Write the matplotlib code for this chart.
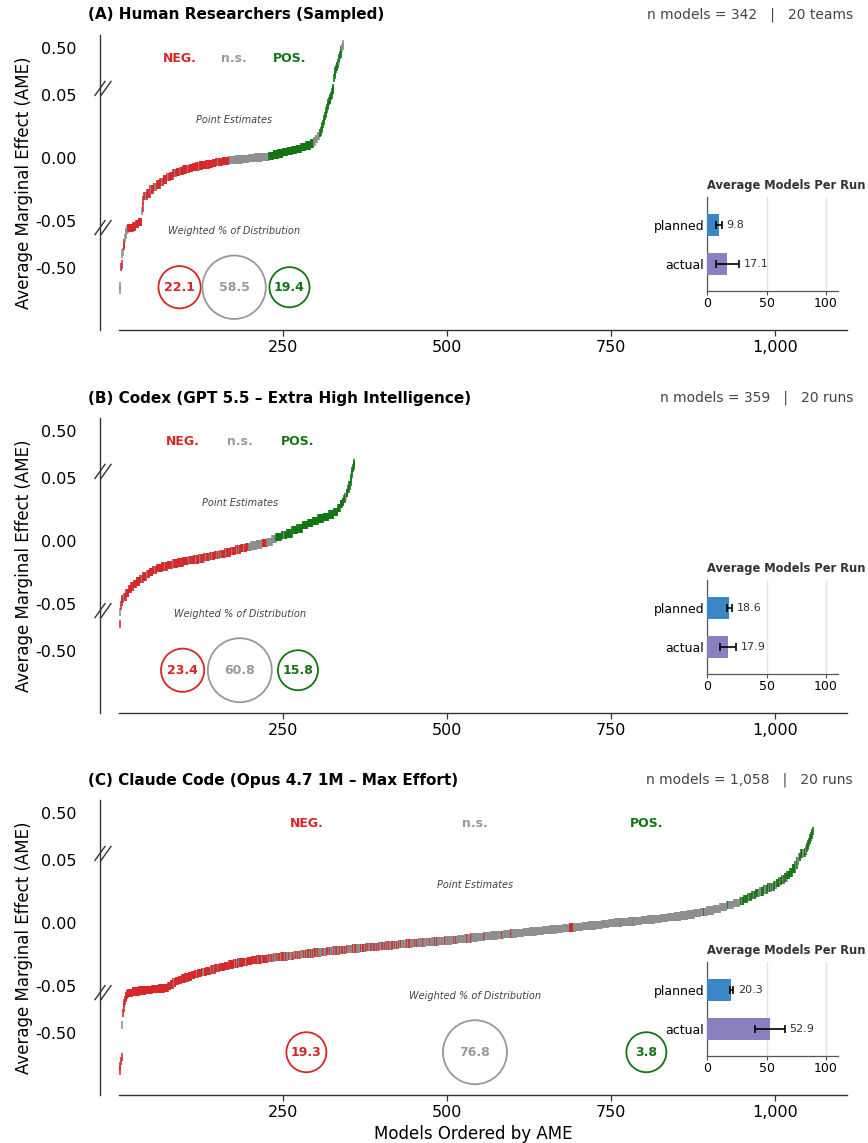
import numpy as np
import matplotlib.pyplot as plt
import matplotlib.transforms as mtransforms
from matplotlib.lines import Line2D

# ---- data -------------------------------------------------------------
# each AME value is paired with a string: one char per model at that value
# '-' = significant negative, 'o' = not significant, '+' = significant positive

a_ame = [-0.74, -0.70, -0.49, -0.46, -0.34, -0.32, -0.25, -0.23, -0.17, -0.13,
         -0.10, -0.075, -0.063, -0.058, -0.056, -0.054, -0.052, -0.0505, -0.042, -0.039,
         -0.033, -0.030, -0.028, -0.025, -0.023, -0.021, -0.019, -0.017, -0.015, -0.014,
         -0.012, -0.011, -0.010, -0.009, -0.0085, -0.008, -0.0072, -0.0066, -0.006, -0.0055,
         -0.005, -0.0045, -0.004, -0.0034, -0.003, -0.0026, -0.0022, -0.0016, -0.0011, -0.0006,
         -0.0002, 0.0003, 0.0009, 0.0018, 0.0028, 0.0036, 0.0045, 0.0054, 0.0063, 0.0072,
         0.0085, 0.0098, 0.0115, 0.013, 0.015, 0.0175, 0.020,
         0.021, 0.023, 0.025, 0.027, 0.029, 0.031, 0.033, 0.035, 0.037, 0.039,
         0.041, 0.043, 0.045, 0.046, 0.047, 0.049, 0.050, 0.052, 0.054, 0.055,
         0.17, 0.20, 0.24, 0.27, 0.29, 0.30, 0.33, 0.36, 0.39, 0.42,
         0.44, 0.48, 0.50, 0.52, 0.54]
a_sig = ["o", "o", "-", "-", "o", "o", "-", "-", "o", "o",
         "o", "o", "o", "----", "----", "----", "----", "-----", "o", "-",
         "-", "-o-o-", "--o--", "-o---", "--o-o", "-o---", "---o-", "-----", "--o--", "-----",
         "---o-", "-----", "o----", "-----", "--o--", "-----", "-----", "----o", "-----", "-----",
         "--o--", "-----", "-----", "---o-", "-----", "-----", "----o", "-ooooooooo", "oooooooooo", "oooooooooo",
         "oooooooooo", "oooooooooo", "ooooooooooo", "+++++++", "+++++++", "+++++++", "+++++++", "+++++++", "+++++++", "+++++++",
         "+++++++", "+++++++", "+++++", "ooo", "ooo", "ooo", "o+",
         "+", "+", "+", "+", "+", "+", "+", "+", "+", "+",
         "+", "+", "+", "+", "+", "+", "+", "+", "+", "+",
         "+", "+", "+", "+", "+", "+", "+", "o", "+", "+",
         "+", "+", "o", "o", "o"]

b_ame = [-0.20, -0.067, -0.051, -0.048, -0.046, -0.044, -0.041, -0.038, -0.036, -0.034,
         -0.032, -0.030, -0.028, -0.026, -0.0245, -0.023, -0.0215, -0.020, -0.019, -0.0178,
         -0.017, -0.016, -0.0152, -0.0145, -0.0137, -0.0128, -0.012, -0.011, -0.010, -0.009,
         -0.0078, -0.0066, -0.0055, -0.0045, -0.0036, -0.0028, -0.0018, -0.0008, 0.0015, 0.0032,
         0.0045, 0.006, 0.0085, 0.010, 0.0125, 0.0145, 0.016, 0.0178, 0.019, 0.021,
         0.023, 0.026, 0.029, 0.031, 0.033, 0.035, 0.038, 0.041, 0.044, 0.047,
         0.050, 0.053, 0.056, 0.09, 0.12, 0.145]
b_sig = ["-", "o", "-", "-", "--", "-o--", "----", "----", "--o-", "----",
         "-----", "---o-", "-----", "-o---", "-----", "---o--", "--------", "----o---", "--------", "-o------",
         "----o---", "--------", "-o---o--", "----o---", "--o----o", "---o----", "-o--o---", "----o--o", "--o-----", "-o---o--",
         "---o----", "--o--o--", "-----o--", "----oooo", "oooooooo", "oooooooo", "o-------", "oooooooo", "oooooo", "++++++++",
         "++++o+++", "++++++++", "+o++++++", "++o+++++", "++++++++", "++++++++", "++++++++", "++++++++", "++++++++", "++++++++",
         "++++++", "++++", "+++", "++", "++", "+o", "++", "++", "++", "+",
         "+", "+", "+", "+", "+", "+"]

c_ame = [-0.91, -0.86, -0.81, -0.76, -0.41, -0.28, -0.22, -0.17, -0.14, -0.11,
         -0.09, -0.075, -0.063, -0.057, -0.0555, -0.054, -0.0533, -0.0527, -0.0522, -0.0517,
         -0.0512, -0.050, -0.0485, -0.047, -0.0458, -0.0448, -0.0438, -0.043, -0.0422, -0.0413,
         -0.0403, -0.0395, -0.0388, -0.0378, -0.0368, -0.0358, -0.0348, -0.0338, -0.0328, -0.032,
         -0.0313, -0.0306, -0.0300, -0.0294, -0.0288, -0.0282, -0.0275, -0.0269, -0.0264, -0.0258,
         -0.0252, -0.0246, -0.0240, -0.0234, -0.0228, -0.0223, -0.0218, -0.0212, -0.0207, -0.0202,
         -0.0197, -0.0192, -0.0187, -0.0182, -0.0177, -0.0172, -0.0167, -0.0161, -0.0157, -0.0153,
         -0.0149, -0.0145, -0.0141, -0.0137, -0.0133, -0.0128, -0.0121, -0.0114, -0.0108, -0.0103,
         -0.0098, -0.0093, -0.0088, -0.0083, -0.0077, -0.0072, -0.0066, -0.0061, -0.0056, -0.0051,
         -0.0046, -0.0041, -0.0036, -0.0031, -0.0025, -0.0019, -0.0013, -0.0007, -0.0002, 0.0003,
         0.0008, 0.0013, 0.0018, 0.0023, 0.0028, 0.0033, 0.0039, 0.0045, 0.0052, 0.006,
         0.0068, 0.0077, 0.0088, 0.0100, 0.0113, 0.0127, 0.0143, 0.016, 0.0175, 0.019,
         0.0205, 0.022, 0.0235, 0.025, 0.0265, 0.028, 0.0285, 0.030, 0.0315, 0.033,
         0.0345, 0.036, 0.038, 0.040, 0.043, 0.046, 0.049, 0.052, 0.055, 0.058,
         0.065, 0.08, 0.10, 0.12, 0.14, 0.16, 0.18, 0.20, 0.22, 0.24,
         0.26, 0.28, 0.30]
c_sig = ["-", "-", "-", "-", "o", "-", "-", "-", "-", "-",
         "-", "-", "-", "-", "------", "----------", "----------", "----------", "----------", "--------",
         "------", "----", "----", "-o--", "----", "---o-", "-----", "--o--", "-----", "o----",
         "---o-", "-----", "--o-o--", "-------", "-o---o-", "----o--", "-o-----", "---o--o", "-------", "--o--o-",
         "-o-----", "----oo-", "-------", "-o--o--", "--o----", "-oo--o----", "o--o-o--oo", "-o-o--o-o-", "oo--o-o--o", "-o--oo-o--",
         "o-o--o-oo-", "-oo-o--o-o", "o-o-oo--o-", "-o-o-oo-o-", "oo-o--oo-o", "-o-oo-o-oo", "o-oo-o-o-o", "-oo-o-oo-o", "o-o-oo-o-o", "-oo-o-o-oo",
         "oo-oo-o-oo", "-oo-ooo-o-", "oo-o-oo-oo", "-ooo-o-oo-", "oo-oo-ooo-", "o-oo-oo-oo", "-oo-ooo-oo", "oo-oo-o-oo", "o-ooo-oo-o", "-oo-ooo-oo",
         "oo-oooo-oo", "o-ooo-oo-o", "oo-oo-oooo", "-ooo-oo-oo", "oooo-oo-oo", "o-ooooo-oo", "oooo-ooooo", "-ooooooooo", "oooooooooo", "-ooooooooo",
         "oooooooooo", "ooooooo-oo", "o-oooooooo", "o-oooooooo", "oooooooooo", "oooooooooo", "oooooooooo", "oooooooooo", "oooooooooo", "oooooooooo",
         "oooooooooo", "oooooooooo", "------oooo", "oooooooooo", "oooooooooo", "oooooooooo", "oooooooooo", "oooooooooo", "oooooooooo", "oooooooo+o",
         "oooooooooo", "oooooo+ooo", "oooooooooo", "oooooooooo", "oooooooooo", "oooooooooo", "oooooooooo", "oooooooooo", "oooooooooo", "oooooooooo",
         "oooooooooo", "oooooooooo", "ooooo+oooo", "oooooooooo", "oooooooooo", "oooooooooo", "oo+ooooooo", "oooooooooo", "o++o++", "+o++o+",
         "++o+o+", "+o+o++", "o++o+o", "+oo+++", "o+o+o+", "++o++o", "o+o+", "++oo", "o+++", "+o++",
         "++o+", "o++o", "++++", "+o++", "++++", "+o+", "++o", "o++", "+++", "o+o",
         "+", "+", "o", "+", "+", "+", "+", "+", "+", "+",
         "+", "+", "+"]

a_pct = [22.1, 58.5, 19.4]
b_pct = [23.4, 60.8, 15.8]
c_pct = [19.3, 76.8, 3.8]

run_labels = ["planned", "actual"]
a_runs = [9.8, 17.1]
a_runs_err = [2.4, 9.7]
b_runs = [18.6, 17.9]
b_runs_err = [2.0, 6.7]
c_runs = [20.3, 52.9]
c_runs_err = [1.4, 12.2]

titles = ["(A) Human Researchers (Sampled)",
          "(B) Codex (GPT 5.5 \u2013 Extra High Intelligence)",
          "(C) Claude Code (Opus 4.7 1M \u2013 Max Effort)"]
headers = ["n models = 342   |   20 teams",
           "n models = 359   |   20 runs",
           "n models = 1,058   |   20 runs"]

# ---- style ------------------------------------------------------------
RED = '#d62728'
GRAY = '#8f8f8f'
GREEN = '#127512'
sig_color = {'-': RED, 'o': GRAY, '+': GREEN}
group_colors = [RED, '#999999', GREEN]

# broken y axis: linear inside +-CUT, compressed outside
CUT = 0.055
K = 1.438


def fwd(y):
    y = np.asarray(y, dtype=float)
    a = np.abs(y)
    return np.where(a <= CUT, y / 0.05, np.sign(y) * (CUT / 0.05 + (a - CUT) * K))


def inv(t):
    t = np.asarray(t, dtype=float)
    a = np.abs(t)
    return np.where(a <= CUT / 0.05, t * 0.05, np.sign(t) * (CUT + (a - CUT / 0.05) / K))


W, H = 868, 1143
fig = plt.figure(figsize=(W / 100, H / 100), dpi=100)

panels = [(a_ame, a_sig, a_pct, a_runs, a_runs_err),
          (b_ame, b_sig, b_pct, b_runs, b_runs_err),
          (c_ame, c_sig, c_pct, c_runs, c_runs_err)]
tops = [35, 418, 800]
AX_L, AX_W, AX_H = 100, 747, 295
YMIN, YMAX = -1.18, 0.642

for i, (ame, sig, pct, runs, runs_err) in enumerate(panels):
    top = tops[i]
    ax = fig.add_axes([AX_L / W, 1 - (top + AX_H) / H, AX_W / W, AX_H / H])

    y = np.repeat(ame, [len(s) for s in sig])
    codes = "".join(sig)
    x = np.arange(1, len(y) + 1)
    n = len(y)

    ax.scatter(x, y, marker='|', s=36, linewidths=1.15,
               c=[sig_color[ch] for ch in codes], zorder=3)

    ax.set_yscale('function', functions=(fwd, inv))
    ax.set_ylim(YMIN, YMAX)
    ax.set_xlim(-29, 1110)
    ax.set_yticks([-0.5, -0.05, 0, 0.05, 0.5])
    ax.set_yticklabels(["-0.50", "-0.05", "0.00", "0.05", "0.50"])
    ax.yaxis.set_minor_locator(plt.NullLocator())
    ax.set_xticks([250, 500, 750, 1000])
    ax.set_xticklabels(["250", "500", "750", "1,000"])
    ax.tick_params(axis='y', length=0, pad=17, labelsize=11.5)
    ax.tick_params(axis='x', length=4, width=0.9, color='#333333', pad=3, labelsize=11.5)

    for s in ['top', 'right']:
        ax.spines[s].set_visible(False)
    for s in ['left', 'bottom']:
        ax.spines[s].set_color('#333333')
        ax.spines[s].set_linewidth(1.0)
    ax.spines['bottom'].set_bounds(0, 1110)

    ax.set_ylabel("Average Marginal Effect (AME)", fontsize=12)
    ax.yaxis.set_label_coords((33 - AX_L) / AX_W, 0.5)
    if i == 2:
        ax.set_xlabel("Models Ordered by AME", fontsize=12, labelpad=4)

    # break marks on the left spine
    t0, t1 = fwd(YMIN), fwd(YMAX)
    for yb in (CUT, -CUT):
        fb = (fwd(yb) - t0) / (t1 - t0)
        for dx in (-5, 1):
            ax.add_line(Line2D([dx / AX_W, (dx + 10) / AX_W],
                               [fb - 7 / AX_H, fb + 7 / AX_H],
                               transform=ax.transAxes, color='#333333',
                               lw=1.0, clip_on=False))

    # group labels, captions and weighted-share bubbles
    blend = mtransforms.blended_transform_factory(ax.transData, ax.transAxes)
    xfrac = [0.27, 0.513, 0.76]
    names = ["NEG.", "n.s.", "POS."]
    for k in range(3):
        xc = xfrac[k] * n
        ax.text(xc, 0.919, names[k], transform=blend, ha='center', va='center',
                fontsize=9, fontweight='bold', color=group_colors[k])
        r = min(max(4.2 + 3.6 * np.sqrt(pct[k]), 20), 32)
        ax.scatter([xc], [0.145], transform=blend, s=(2 * r * 0.72) ** 2,
                   facecolors='none', edgecolors=group_colors[k], linewidths=1.3,
                   clip_on=False, zorder=4)
        ax.text(xc, 0.145, f"{pct[k]}", transform=blend, ha='center', va='center',
                fontsize=9, fontweight='bold', color=group_colors[k], zorder=5)
    xm = xfrac[1] * n
    ax.text(xm, 0.712, "Point Estimates", transform=blend, ha='center', va='center',
            fontsize=7, style='italic', color='#444444')
    ax.text(xm, 0.336, "Weighted % of Distribution", transform=blend, ha='center',
            va='center', fontsize=7, style='italic', color='#444444')

    # panel titles
    fig.text(88 / W, 1 - (top - 20) / H, titles[i], fontsize=11, fontweight='bold',
             va='center', ha='left')
    fig.text(853 / W, 1 - (top - 20) / H, headers[i], fontsize=10, color='#444444',
             va='center', ha='right')

    # inset: average models per run
    ins = fig.add_axes([707 / W, 1 - (top + 256) / H, 131 / W, 94 / H])
    ins.barh([0, 1], runs, height=0.58, color=['#3b87c4', '#8b80bf'], xerr=runs_err,
             error_kw=dict(ecolor='black', elinewidth=1.2, capsize=3, capthick=1.2),
             zorder=3)
    for j in range(2):
        ins.annotate(f"{runs[j]}", (runs[j] + runs_err[j], j), xytext=(3.5, 0),
                     textcoords='offset points', va='center', ha='left',
                     fontsize=8, color='#333333')
    ins.set_xlim(0, 110)
    ins.set_ylim(1.7, -0.72)
    ins.set_yticks([0, 1])
    ins.set_yticklabels(run_labels)
    ins.set_xticks([0, 50, 100])
    ins.grid(axis='x', color='#e3e3e3', lw=1.0)
    ins.set_axisbelow(True)
    ins.tick_params(axis='y', length=0, labelsize=9, pad=2)
    ins.tick_params(axis='x', length=3, labelsize=9, pad=1, color='#555555')
    for s in ['top', 'right']:
        ins.spines[s].set_visible(False)
    for s in ['left', 'bottom']:
        ins.spines[s].set_color('#555555')
        ins.spines[s].set_linewidth(0.9)
    ins.set_title("Average Models Per Run", loc='left', fontsize=8.3,
                  fontweight='bold', color='#333333', pad=6)

fig.savefig("out.png", dpi=100)
